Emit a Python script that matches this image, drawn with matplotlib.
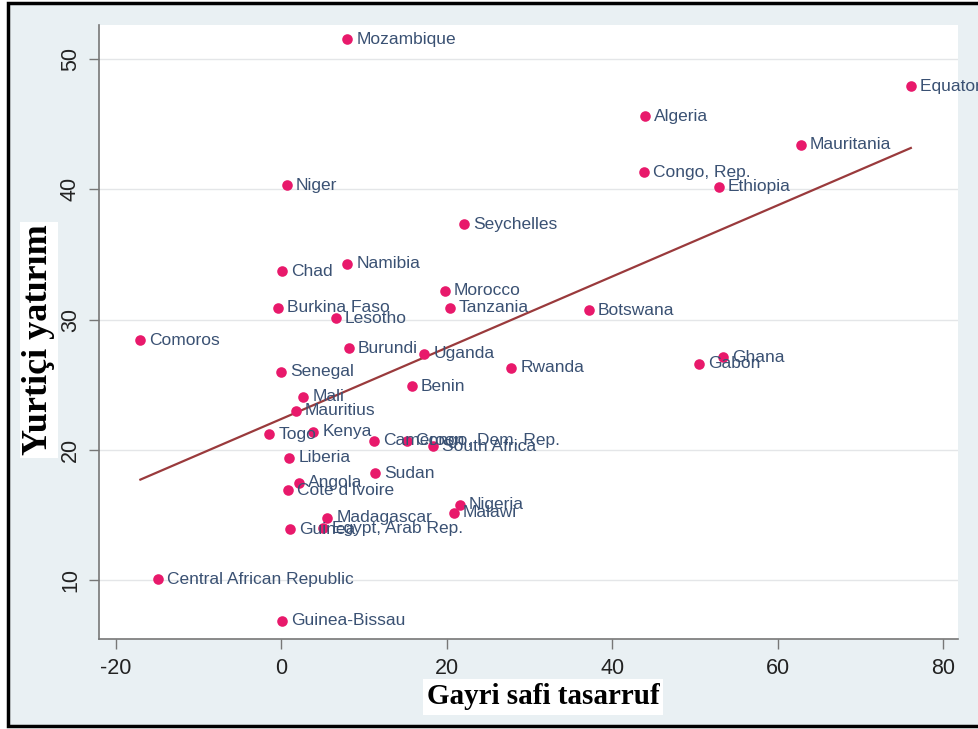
import numpy as np
import matplotlib.pyplot as plt
from matplotlib.patches import Rectangle

countries = [
    "Mozambique", "Equatorial Guinea", "Algeria", "Mauritania", "Congo, Rep.",
    "Ethiopia", "Niger", "Seychelles", "Chad", "Namibia", "Morocco", "Tanzania",
    "Burkina Faso", "Lesotho", "Botswana", "Comoros", "Burundi", "Uganda",
    "Ghana", "Gabon", "Rwanda", "Senegal", "Benin", "Mali", "Mauritius", "Togo",
    "Kenya", "Cameroon", "Congo, Dem. Rep.", "South Africa", "Liberia", "Sudan",
    "Angola", "Cote d'Ivoire", "Nigeria", "Malawi", "Madagascar",
    "Egypt, Arab Rep.", "Guinea", "Central African Republic", "Guinea-Bissau",
]
savings = [
    8.0, 76.1, 44.0, 62.8, 43.8, 52.9, 0.7, 22.1, 0.1, 8.0, 19.8, 20.4,
    -0.4, 6.6, 37.2, -17.0, 8.2, 17.3, 53.4, 50.5, 27.8, 0.0, 15.8, 2.7,
    1.8, -1.4, 3.9, 11.2, 15.2, 18.4, 1.0, 11.4, 2.2, 0.8, 21.6, 20.9,
    5.6, 5.1, 1.1, -14.9, 0.1,
]
investment = [
    51.5, 47.9, 45.6, 43.4, 41.3, 40.2, 40.3, 37.3, 33.7, 34.3, 32.2, 30.9,
    30.9, 30.1, 30.7, 28.4, 27.8, 27.4, 27.1, 26.6, 26.3, 26.0, 24.9, 24.1,
    23.0, 21.2, 21.4, 20.7, 20.7, 20.3, 19.4, 18.2, 17.5, 16.9, 15.8, 15.2,
    14.8, 14.0, 13.9, 10.1, 6.9,
]
x_ticks = [-20, 0, 20, 40, 60, 80]
y_ticks = [10, 20, 30, 40, 50]

x = np.array(savings)
y = np.array(investment)

fig = plt.figure(figsize=(9.79, 7.29), dpi=100, facecolor="white")

# framed light background behind the plot
frame = Rectangle((8 / 979, 3 / 729), 1.2, 723 / 729, transform=fig.transFigure,
                  facecolor="#e9f0f3", edgecolor="black", linewidth=2.5, zorder=-10)
fig.patches.append(frame)

ax = fig.add_axes([99 / 979, 90 / 729, 859 / 979, 614 / 729])
ax.set_facecolor("white")
ax.set_xlim(-22.0, 81.8)
ax.set_ylim(5.5, 52.6)

ax.scatter(x, y, s=58, color="#e8196b", zorder=3, linewidths=0)

# linear fit
slope, icept = np.polyfit(x, y, 1)
xs = np.array([x.min(), x.max()])
ax.plot(xs, icept + slope * xs, color="#9a3a3c", lw=1.6, zorder=2)

for name, xi, yi in zip(countries, x, y):
    ax.annotate(name, (xi, yi), xytext=(6.5, 0), textcoords="offset points",
                va="center", ha="left", fontsize=12.5, color="#3a5173",
                family="Liberation Sans", zorder=4, annotation_clip=False)

ax.set_xticks(x_ticks)
ax.set_yticks(y_ticks)
ax.set_xticklabels([str(t) for t in x_ticks], fontsize=15.5, family="Liberation Sans",
                   color="#222222")
ax.set_yticklabels([str(t) for t in y_ticks], fontsize=15.5, family="Liberation Sans",
                   color="#222222", rotation=90, va="center")
ax.tick_params(axis="both", direction="out", length=7, width=1, color="#777777")
ax.tick_params(axis="x", pad=7)
ax.tick_params(axis="y", pad=6)
ax.grid(axis="y", color="#e4e6e8", lw=1)
ax.set_axisbelow(True)
for side in ("top", "right"):
    ax.spines[side].set_visible(False)
for side in ("left", "bottom"):
    ax.spines[side].set_color("#777777")
    ax.spines[side].set_linewidth(1.2)

box = dict(facecolor="white", edgecolor="none", pad=3)
fig.text(543 / 979, 1 - 697 / 729, "Gayri safi tasarruf", ha="center", va="center",
         fontsize=21, fontweight="bold", family="Liberation Serif", bbox=box)
fig.text(39 / 979, 1 - 340 / 729, "Yurtiçi yatırım", ha="center", va="center",
         rotation=90, fontsize=26, fontweight="bold", family="Liberation Serif",
         bbox=dict(facecolor="white", edgecolor="none", pad=1.5))

fig.savefig("out.png", dpi=100)
